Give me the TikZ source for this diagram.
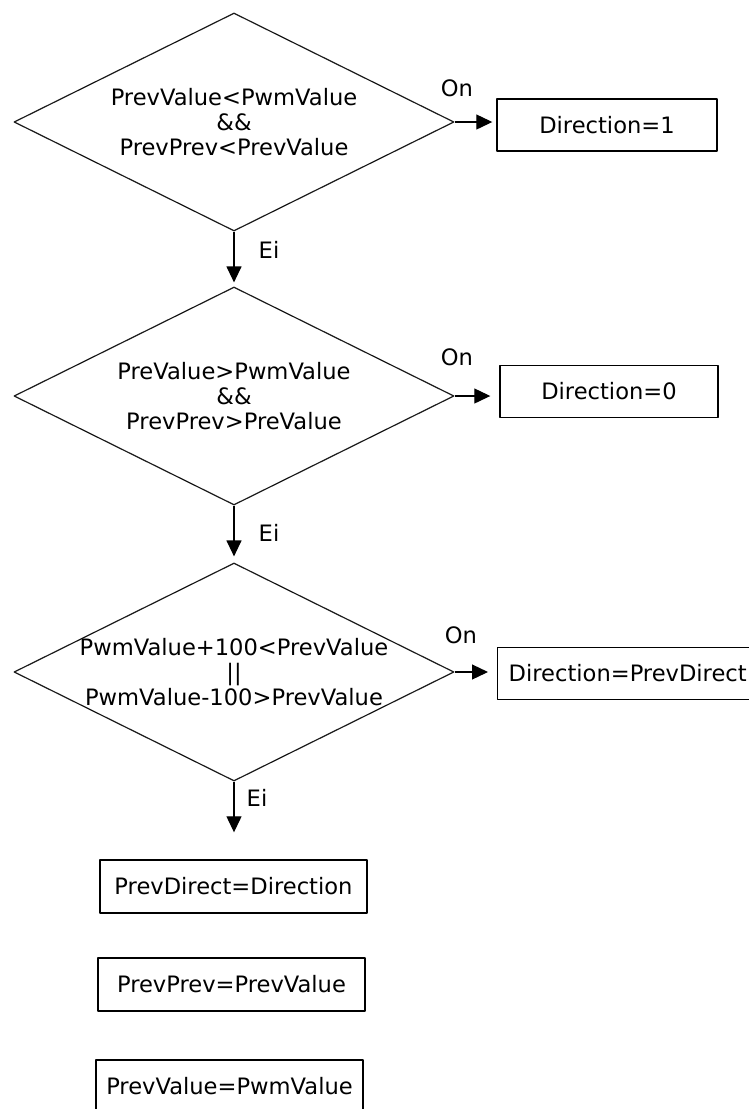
\documentclass[tikz,border=0pt]{standalone}
\usepackage{fontspec}
\setmainfont{DejaVu Sans}
\usetikzlibrary{shapes.geometric,arrows.meta}

\begin{document}
\begin{tikzpicture}[x=0.5pt,y=-0.5pt,>={Triangle[length=8pt,width=7.5pt]},line join=round,
	every node/.style={font=\fontsize{11.3}{12.5}\selectfont},
	ehto/.style={draw=black!90,shape=diamond,minimum width=220pt,minimum height=109pt,inner sep=0pt,line width=0.6pt},
	laatikko/.style={draw,rectangle,minimum height=26pt,inner sep=0pt,line width=0.7pt},
	nuoli/.style={->,line width=0.6pt}]
	\clip (0,0) rectangle (749,1109);
	% ehdot
	\node[ehto] (d1) at (234,122) {};
	\node[align=center] (t1) at (d1.center) {PrevValue<PwmValue\\\&\&\\PrevPrev<PrevValue};
	\node[ehto] (d2) at (234,396) {};
	\node[align=center] (t2) at (d2.center) {PreValue>PwmValue\\\&\&\\PrevPrev>PreValue};
	\node[ehto] (d3) at (234,672) {};
	\node[align=center] (t3) at (d3.center) {PwmValue+100<PrevValue\\||\\PwmValue-100>PrevValue};
	% laatikot
	\node[laatikko,minimum width=110pt] (b1) at (607,125) {Direction=1};
	\node[laatikko,minimum width=109pt] (b2) at (609,391.5) {Direction=0};
	\node[laatikko,minimum width=130pt,anchor=west] (b3) at (497,673.5) {Direction=PrevDirect};
	\node[laatikko,minimum width=133.5pt,minimum height=26.5pt] (b4) at (233.5,886.5) {PrevDirect=Direction};
	\node[laatikko,minimum width=133.5pt,minimum height=26.5pt] (b5) at (231.5,984.5) {PrevPrev=PrevValue};
	\node[laatikko,minimum width=133.5pt,minimum height=26.5pt] (b6) at (229.5,1086.5) {PrevValue=PwmValue};
	% nuolet
	\draw[nuoli,shorten >=2pt] (d1.east) -- (d1.east -| b1.west);
	\draw[nuoli,shorten >=4.5pt] (d2.east) -- (d2.east -| b2.west);
	\draw[nuoli,shorten >=4.5pt] (d3.east) -- (d3.east -| b3.west);
	\draw[nuoli,shorten >=2pt] (d1.south) -- (d2.north);
	\draw[nuoli,shorten >=3pt] (d2.south) -- (d3.north);
	\draw[nuoli,shorten >=13.5pt] (d3.south) -- (d3.south |- b4.north);
	% tekstit
	\node (on1) at (457,88) {On};
	\node (on2) at (457,357) {On};
	\node (on3) at (461,635) {On};
	\node (ei1) at (269,250) {Ei};
	\node (ei2) at (269,533) {Ei};
	\node (ei3) at (257,798) {Ei};
\end{tikzpicture}
\end{document}
